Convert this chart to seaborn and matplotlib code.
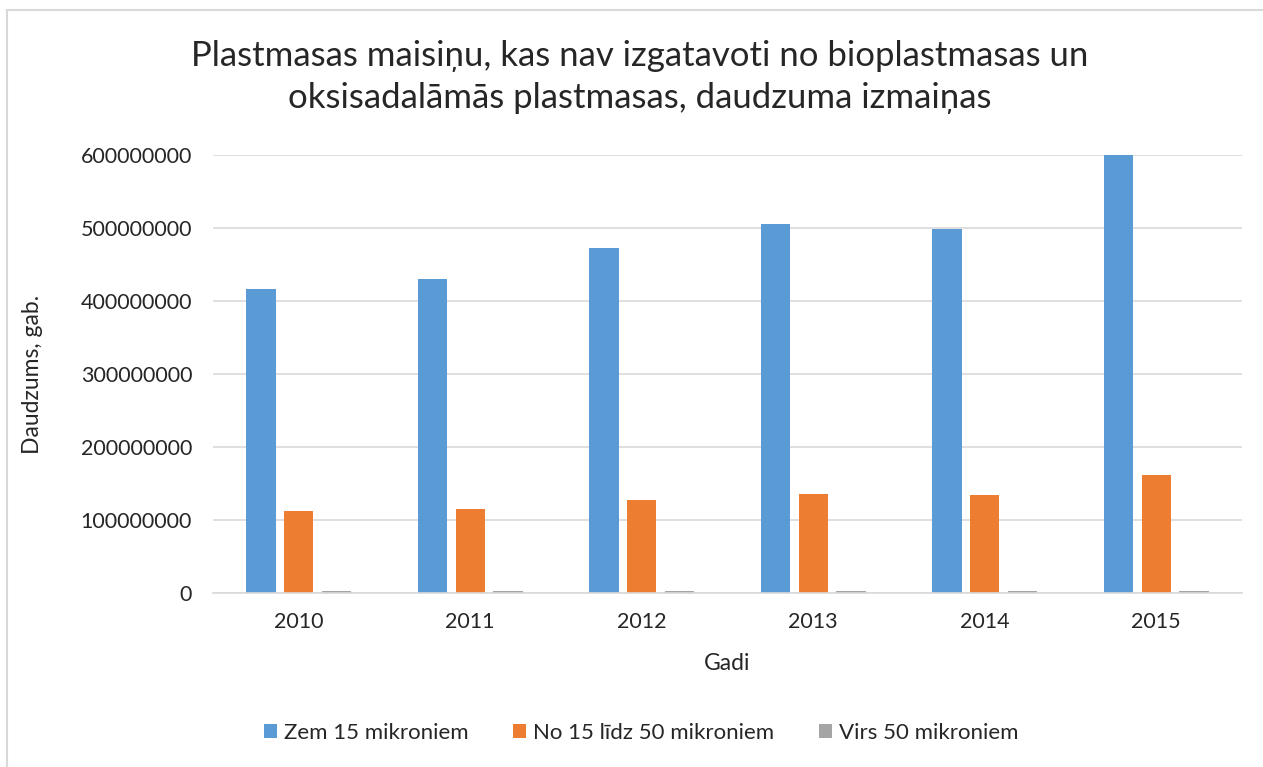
import pandas as pd
import seaborn as sns
import matplotlib.pyplot as plt
from matplotlib.patches import Rectangle, Patch

# Values (pieces)
years = ["2010", "2011", "2012", "2013", "2014", "2015"]
zem_15 = [416000000, 430000000, 472000000, 505000000, 499000000, 600000000]
no_15_lidz_50 = [112000000, 115000000, 127000000, 136000000, 134000000, 161000000]
virs_50 = [2200000, 2200000, 2200000, 2200000, 2200000, 2600000]

series_names = ["Zem 15 mikroniem", "No 15 līdz 50 mikroniem", "Virs 50 mikroniem"]
colors = ["#5B9BD5", "#ED7D31", "#A5A5A5"]

df = pd.DataFrame({
    "Gadi": years * 3,
    "Daudzums": zem_15 + no_15_lidz_50 + virs_50,
    "Sērija": [s for s in series_names for _ in years],
})

sns.set_theme(style="white")
plt.rcParams["font.family"] = ["Lato", "DejaVu Sans"]

fig = plt.figure(figsize=(12.63, 7.67), dpi=100)
ax = fig.add_axes([213 / 1263, 1 - 593 / 767, 1029 / 1263, 438 / 767])

sns.barplot(data=df, x="Gadi", y="Daudzums", hue="Sērija", palette=colors,
            saturation=1, width=0.66, gap=0.23, linewidth=0, ax=ax, legend=False)

ax.set_xlim(-0.5, 5.5)
ax.set_ylim(0, 600000000)
ax.set_yticks(range(0, 600000001, 100000000))
ax.set_yticklabels([str(v) for v in range(0, 600000001, 100000000)])
ax.yaxis.grid(True, color="#D9D9D9", linewidth=1.2)
ax.set_axisbelow(True)
for side in ["top", "right", "left"]:
    ax.spines[side].set_visible(False)
ax.spines["bottom"].set_color("#D9D9D9")
ax.spines["bottom"].set_linewidth(1.2)
ax.tick_params(axis="both", length=0, labelsize=15.5, colors="#262626")
ax.tick_params(axis="y", pad=15)
ax.tick_params(axis="x", pad=14)
ax.set_xlabel("")
ax.set_ylabel("")

fig.text(640 / 1263, 1 - 77 / 767,
         "Plastmasas maisiņu, kas nav izgatavoti no bioplastmasas un\n"
         "oksisadalāmās plastmasas, daudzuma izmaiņas",
         ha="center", va="center", fontsize=25, color="#262626", linespacing=1.35)
fig.text(727 / 1263, 1 - 663 / 767, "Gadi", ha="center", va="center",
         fontsize=16.5, color="#262626")
fig.text(33 / 1263, 1 - 374 / 767, "Daudzums, gab.", ha="center", va="center",
         rotation=90, fontsize=16.5, color="#262626")

handles = [Patch(facecolor=c, edgecolor="none") for c in colors]
fig.legend(handles, series_names, loc="center", bbox_to_anchor=(641 / 1263, 1 - 733 / 767),
           ncol=3, frameon=False, fontsize=16, handlelength=0.6, handleheight=0.6,
           handletextpad=0.3, columnspacing=2.0)

fig.patches.append(Rectangle((7 / 1263, -0.1), 1.2, 1 - 10 / 767 + 0.1,
                             transform=fig.transFigure, fill=False,
                             edgecolor="#D9D9D9", linewidth=1.5))

fig.savefig("out.png", dpi=100)
